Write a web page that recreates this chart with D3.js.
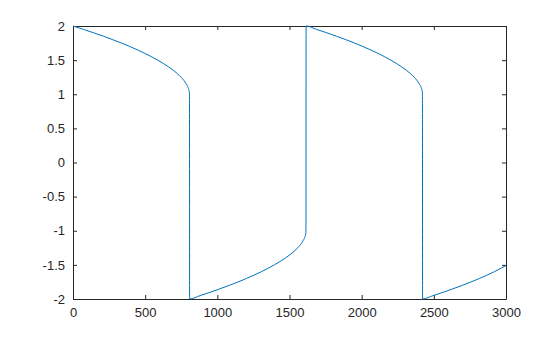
<!DOCTYPE html>
<html>
<head>
<meta charset="utf-8">
<script src="https://cdn.jsdelivr.net/npm/d3@7"></script>
<style>
  body { margin: 0; background: #ffffff; }
  .axis text { font-family: "Liberation Sans", Arial, sans-serif; font-size: 13px; fill: #262626; }
  .axis path, .axis line { stroke: #262626; }
</style>
</head>
<body>
<script>
// values (time, solution)
var time = [0, 73, 144, 275, 393, 497, 587, 663, 696, 724, 749, 769, 785, 797, 804, 807,
            808, 881, 952, 1083, 1201, 1305, 1395, 1471, 1504, 1532, 1557, 1577, 1593, 1605, 1612, 1614,
            1615, 1688, 1759, 1890, 2008, 2112, 2202, 2278, 2311, 2339, 2364, 2384, 2400, 2412, 2419, 2421,
            2422, 2495, 2566, 2697, 2815, 2919, 3000];
var value = [2, 1.95, 1.9, 1.8, 1.7, 1.6, 1.5, 1.4, 1.35, 1.3, 1.25, 1.2, 1.15, 1.1, 1.05, 1.0,
             -2, -1.95, -1.9, -1.8, -1.7, -1.6, -1.5, -1.4, -1.35, -1.3, -1.25, -1.2, -1.15, -1.1, -1.05, -1.0,
             2, 1.95, 1.9, 1.8, 1.7, 1.6, 1.5, 1.4, 1.35, 1.3, 1.25, 1.2, 1.15, 1.1, 1.05, 1.0,
             -2, -1.95, -1.9, -1.8, -1.7, -1.6, -1.51];
var xTicks = [0, 500, 1000, 1500, 2000, 2500, 3000];
var yTicks = [-2, -1.5, -1, -0.5, 0, 0.5, 1, 1.5, 2];

var margin = {top: 26, right: 54, bottom: 38, left: 73},
    width = 560 - margin.left - margin.right,
    height = 337 - margin.top - margin.bottom;

var x = d3.scaleLinear().domain([0, 3000]).range([0, width]);
var y = d3.scaleLinear().domain([-2, 2]).range([height, 0]);

var svg = d3.select("body").append("svg")
    .attr("width", 560)
    .attr("height", 337)
  .append("g")
    .attr("transform", "translate(" + margin.left + "," + margin.top + ")");

var fmt = function(d) { return String(d); };

// box with inward ticks on every side
svg.append("g")
    .attr("class", "axis")
    .attr("transform", "translate(0," + height + ")")
    .call(d3.axisBottom(x).tickValues(xTicks).tickFormat(fmt).tickSizeInner(-4).tickSizeOuter(0).tickPadding(9));
svg.append("g")
    .attr("class", "axis")
    .call(d3.axisTop(x).tickValues(xTicks).tickFormat("").tickSizeInner(-4).tickSizeOuter(0));
svg.append("g")
    .attr("class", "axis")
    .call(d3.axisLeft(y).tickValues(yTicks).tickFormat(fmt).tickSizeInner(-4).tickSizeOuter(0).tickPadding(8));
svg.append("g")
    .attr("class", "axis")
    .attr("transform", "translate(" + width + ",0)")
    .call(d3.axisRight(y).tickValues(yTicks).tickFormat("").tickSizeInner(-4).tickSizeOuter(0));

var pts = time.map(function(t, i) { return [t, value[i]]; });

svg.append("path")
    .datum(pts)
    .attr("fill", "none")
    .attr("stroke", "#0072bd")
    .attr("stroke-width", 1)
    .attr("d", d3.line()
        .x(function(d) { return x(d[0]); })
        .y(function(d) { return y(d[1]); })
        .curve(d3.curveMonotoneX));
</script>
</body>
</html>
